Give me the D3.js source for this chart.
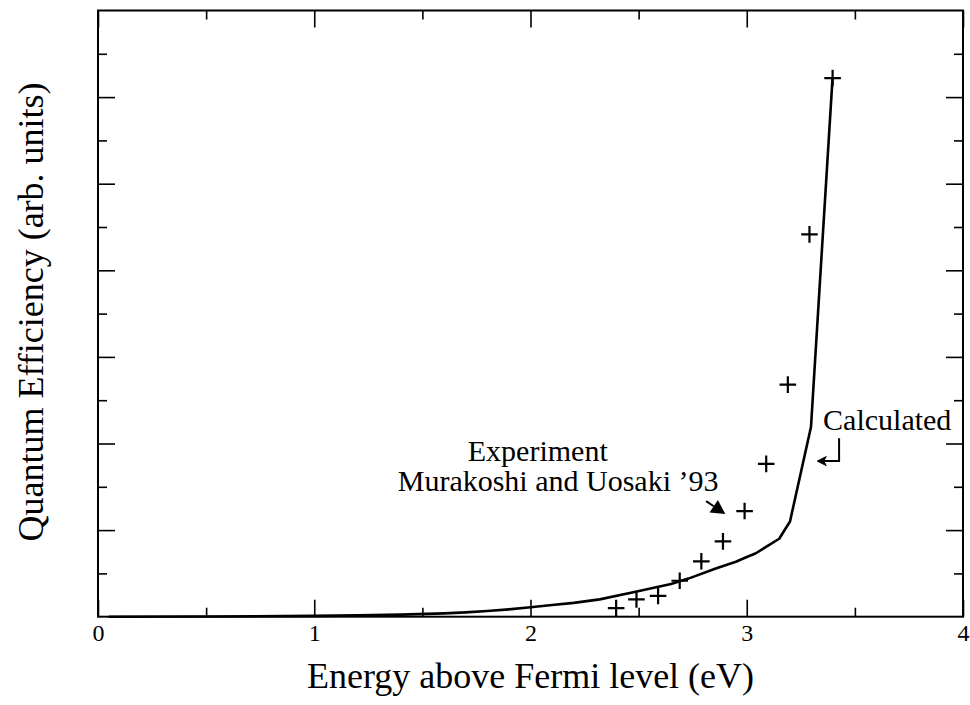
<!DOCTYPE html>
<html>
<head>
<meta charset="utf-8">
<script src="https://cdn.jsdelivr.net/npm/d3@7/dist/d3.min.js"></script>
<style>
  html, body { margin: 0; padding: 0; background: #fff; }
  svg { display: block; }
  text { font-family: "Liberation Serif", "Times New Roman", serif; fill: #000; }
</style>
</head>
<body>
<svg id="chart" width="970" height="705"></svg>
<script>
// ---- data ----
const calcX = [0.05, 0.5, 1.0, 1.2, 1.4, 1.6, 1.7, 1.8, 1.9, 2.0, 2.1, 2.2, 2.32, 2.47, 2.65, 2.73, 2.86, 2.95, 3.0, 3.04, 3.15, 3.2, 3.297, 3.316, 3.397];
const calcY = [0.0, 0.002, 0.01, 0.015, 0.024, 0.038, 0.05, 0.065, 0.085, 0.11, 0.135, 0.16, 0.2, 0.28, 0.377, 0.44, 0.56, 0.635, 0.69, 0.73, 0.9, 1.1, 2.19, 2.96, 6.23];
const expX = [2.396, 2.49, 2.59, 2.69, 2.79, 2.89, 2.99, 3.09, 3.19, 3.29, 3.397];
const expY = [0.10, 0.20, 0.24, 0.415, 0.64, 0.87, 1.22, 1.765, 2.68, 4.415, 6.22];
const xTickLabels = ["0", "1", "2", "3", "4"];
const xMajor = [0, 1, 2, 3, 4];
const xMinor = [0.5, 1.5, 2.5, 3.5];
const yMajor = [1, 2, 3, 4, 5, 6];
const yMinor = [0.5, 1.5, 2.5, 3.5, 4.5, 5.5, 6.5];

// ---- layout ----
const svg = d3.select("#chart");
const L = 98, R = 963, T = 10.5, B = 616.7;
const x = d3.scaleLinear().domain([0, 4]).range([L, R]);
const y = d3.scaleLinear().domain([0, 7]).range([B, T]);
const major = 17, minor = 9;

function styleAxis(g) {
  g.select(".domain").remove();
  g.selectAll(".tick line").attr("stroke", "#000").attr("stroke-width", 1.6);
}
// bottom labels + major ticks
svg.append("g").attr("transform", `translate(0,${B})`)
  .call(d3.axisBottom(x).tickValues(xMajor).tickSize(-major).tickFormat((d, i) => xTickLabels[i]).tickPadding(7))
  .call(styleAxis)
  .call(g => g.attr("font-size", null).attr("font-family", null))
  .call(g => g.selectAll(".tick text").style("font-size", "24px").style("font-family", "'Liberation Serif', serif").attr("fill", "#000"));
svg.append("g").attr("transform", `translate(0,${B})`)
  .call(d3.axisBottom(x).tickValues(xMinor).tickSize(-minor).tickFormat(""))
  .call(styleAxis);
svg.append("g").attr("transform", `translate(0,${T})`)
  .call(d3.axisTop(x).tickValues(xMajor).tickSize(-major).tickFormat(""))
  .call(styleAxis);
svg.append("g").attr("transform", `translate(0,${T})`)
  .call(d3.axisTop(x).tickValues(xMinor).tickSize(-minor).tickFormat(""))
  .call(styleAxis);
svg.append("g").attr("transform", `translate(${L},0)`)
  .call(d3.axisLeft(y).tickValues(yMajor).tickSize(-major).tickFormat(""))
  .call(styleAxis);
svg.append("g").attr("transform", `translate(${L},0)`)
  .call(d3.axisLeft(y).tickValues(yMinor).tickSize(-minor).tickFormat(""))
  .call(styleAxis);
svg.append("g").attr("transform", `translate(${R},0)`)
  .call(d3.axisRight(y).tickValues(yMajor).tickSize(-major).tickFormat(""))
  .call(styleAxis);
svg.append("g").attr("transform", `translate(${R},0)`)
  .call(d3.axisRight(y).tickValues(yMinor).tickSize(-minor).tickFormat(""))
  .call(styleAxis);

// frame
svg.append("rect").attr("x", L).attr("y", T).attr("width", R - L).attr("height", B - T)
  .attr("fill", "none").attr("stroke", "#000").attr("stroke-width", 2);

// calculated curve
const calc = calcX.map((d, i) => [d, calcY[i]]);
svg.append("path").datum(calc)
  .attr("d", d3.line().x(d => x(d[0])).y(d => y(d[1])))
  .attr("fill", "none").attr("stroke", "#000").attr("stroke-width", 2.6).attr("stroke-linejoin", "round");

// experimental crosses
const exp = expX.map((d, i) => [d, expY[i]]);
const cs = 8.3;
svg.append("g").selectAll("path").data(exp).join("path")
  .attr("d", d => `M${x(d[0]) - cs},${y(d[1])}H${x(d[0]) + cs}M${x(d[0])},${y(d[1]) - cs}V${y(d[1]) + cs}`)
  .attr("stroke", "#000").attr("stroke-width", 2.2).attr("fill", "none");

// axis titles
svg.append("text").attr("x", (L + R) / 2).attr("y", 688).attr("text-anchor", "middle")
  .style("font-size", "36px").text("Energy above Fermi level (eV)");
svg.append("text").attr("transform", `translate(43,${312}) rotate(-90)`).attr("text-anchor", "middle")
  .style("font-size", "36px").text("Quantum Efficiency (arb. units)");

// annotations
svg.append("text").attr("x", x(1.71)).attr("y", y(1.795)).style("font-size", "30px").text("Experiment");
svg.append("text").attr("x", x(1.386)).attr("y", y(1.449)).style("font-size", "30px").text("Murakoshi and Uosaki \u201993");
svg.append("text").attr("x", x(3.353)).attr("y", y(2.155)).style("font-size", "30px").text("Calculated");

// arrow to experiment
const a0 = [x(2.812), y(1.335)], a1 = [x(2.901), y(1.185)];
{
  const dx = a1[0] - a0[0], dy = a1[1] - a0[1], len = Math.hypot(dx, dy);
  const ux = dx / len, uy = dy / len, hl = 14, hw = 7.5;
  const bx = a1[0] - ux * hl, by = a1[1] - uy * hl;
  svg.append("line").attr("x1", a0[0]).attr("y1", a0[1]).attr("x2", bx).attr("y2", by)
    .attr("stroke", "#000").attr("stroke-width", 2);
  svg.append("path")
    .attr("d", `M${a1[0]},${a1[1]}L${bx - uy * hw},${by + ux * hw}L${bx + uy * hw},${by - ux * hw}Z`)
    .attr("fill", "#000");
}
// L-arrow to calculated
{
  const vx = x(3.427), vt = y(2.062), vb = y(1.797), tip = x(3.326);
  svg.append("path").attr("d", `M${vx},${vt}V${vb}H${tip + 6}`)
    .attr("fill", "none").attr("stroke", "#000").attr("stroke-width", 2);
  svg.append("path")
    .attr("d", `M${tip},${vb}L${tip + 9},${vb - 4.5}L${tip + 6.5},${vb}L${tip + 9},${vb + 4.5}Z`)
    .attr("fill", "#000").attr("stroke", "#000").attr("stroke-width", 1);
}
</script>
</body>
</html>
